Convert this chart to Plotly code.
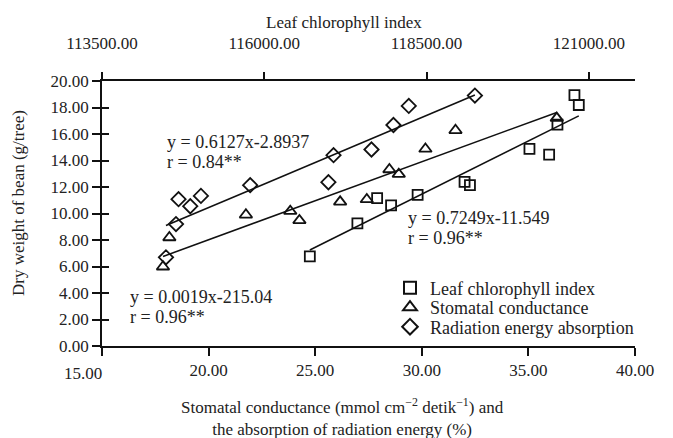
import numpy as np
import plotly.graph_objects as go

# ---------------- data ----------------
chl_x = [116702, 117435, 117739, 117954, 118363, 119086, 119169, 120086, 120389, 120517, 120779, 120846]
chl_y = [6.76, 9.25, 11.16, 10.61, 11.41, 12.39, 12.14, 14.87, 14.45, 16.71, 18.94, 18.19]

stom_x = [17.86, 18.16, 21.75, 23.83, 24.26, 26.17, 27.42, 28.48, 28.92, 30.17, 31.58, 36.33]
stom_y = [5.98, 8.19, 9.90, 10.18, 9.48, 10.88, 11.06, 13.32, 12.97, 14.87, 16.28, 17.20]

rad_x = [18.00, 18.47, 18.59, 19.14, 19.64, 21.95, 25.62, 25.86, 27.64, 28.67, 29.39, 32.49]
rad_y = [6.69, 9.20, 11.08, 10.55, 11.33, 12.14, 12.36, 14.40, 14.83, 16.68, 18.12, 18.90]

series_names = ["Leaf chlorophyll index", "Stomatal conductance", "Radiation energy absorption"]

bottom_ticks = [15, 20, 25, 30, 35, 40]
bottom_labels = ["15.00", "20.00", "25.00", "30.00", "35.00", "40.00"]
top_ticks = [113500, 116000, 118500, 121000]
top_labels = ["113500.00", "116000.00", "118500.00", "121000.00"]
y_ticks = [0, 2, 4, 6, 8, 10, 12, 14, 16, 18, 20]

eq_texts = [("y = 0.6127x-2.8937", "r = 0.84**"),
            ("y = 0.7249x-11.549", "r = 0.96**"),
            ("y = 0.0019x-215.04", "r = 0.96**")]

title_top = "Leaf chlorophyll index"
title_y = "Dry weight of bean (g/tree)"
title_x = "Stomatal conductance (mmol cm<sup>\u22122</sup> detik<sup>\u22121</sup>) and<br>the absorption of radiation energy (%)"

# ---------------- layout geometry ----------------
W, H = 673, 438
L, R, T, B = 102, 635, 81, 346
FONT = "Liberation Serif, Times New Roman, serif"
TXT = "#222222"
INK = "#111111"

def px2paper(px, py):
    return (px - L) / (R - L), (B - py) / (B - T)

def trend(xs, ys):
    xs = np.asarray(xs, float); ys = np.asarray(ys, float)
    k, b = np.polyfit(xs, ys, 1)
    xx = np.array([xs.min(), xs.max()])
    return xx, k * xx + b

fig = go.Figure()

# trendlines
for xs, ys, ax in [(chl_x, chl_y, "x2"), (stom_x, stom_y, "x"), (rad_x, rad_y, "x")]:
    lx, ly = trend(xs, ys)
    fig.add_trace(go.Scatter(x=lx, y=ly, mode="lines", xaxis=ax, yaxis="y",
                             line=dict(color=INK, width=1.6), showlegend=False, hoverinfo="skip"))

mk_line = dict(color=INK, width=1.8)
fig.add_trace(go.Scatter(x=chl_x, y=chl_y, mode="markers", name=series_names[0], xaxis="x2", yaxis="y",
                         legend="legend",
                         marker=dict(symbol="square-open", size=10, color=INK, line=mk_line)))
fig.add_trace(go.Scatter(x=stom_x, y=stom_y, mode="markers", name=series_names[1], xaxis="x", yaxis="y",
                         legend="legend2",
                         marker=dict(symbol="triangle-up-open", size=11, color=INK, line=mk_line)))
fig.add_trace(go.Scatter(x=rad_x, y=rad_y, mode="markers", name=series_names[2], xaxis="x", yaxis="y",
                         legend="legend3",
                         marker=dict(symbol="diamond-open", size=11, color=INK, line=mk_line)))
# dummy trace on yaxis2 so its (inside) ticks render
fig.add_trace(go.Scatter(x=[None], y=[None], xaxis="x", yaxis="y2", showlegend=False, hoverinfo="skip"))

axis_common = dict(showgrid=False, zeroline=False, showline=True, linecolor=INK, linewidth=1.5,
                   tickcolor=INK, tickwidth=1.5, tickfont=dict(family=FONT, size=17, color=TXT))

def legend_at(py):
    return dict(x=px2paper(390, 0)[0], y=px2paper(0, py)[1], xanchor="left", yanchor="middle",
                font=dict(family=FONT, size=18, color=TXT), bgcolor="rgba(0,0,0,0)",
                borderwidth=0, itemsizing="constant")

fig.update_layout(
    width=W, height=H,
    margin=dict(l=L, r=W - R, t=T, b=H - B, pad=0),
    paper_bgcolor="white", plot_bgcolor="white",
    font=dict(family=FONT, size=17, color=TXT),
    xaxis=dict(range=[15, 40], tickvals=bottom_ticks, ticktext=[" "] + bottom_labels[1:],
               ticks="outside", ticklen=8, **axis_common),
    xaxis2=dict(range=[113500, 121712], tickvals=top_ticks, ticktext=top_labels, overlaying="x", side="top",
                ticks="outside", ticklen=7, ticklabelstandoff=16, **axis_common),
    yaxis=dict(range=[0, 20], tickvals=y_ticks, tickformat=".2f", ticks="outside", ticklen=8, **axis_common),
    yaxis2=dict(range=[0, 20], tickvals=y_ticks, overlaying="y", side="left", ticks="inside", ticklen=7,
                showticklabels=False, showline=False, showgrid=False, zeroline=False,
                tickcolor=INK, tickwidth=1.5),
    showlegend=True,
    legend=legend_at(288),
    legend2=legend_at(307.5),
    legend3=legend_at(327),
)

ann = []
def add_text(text, px, py, xanchor="left", size=18, angle=0):
    xp, yp = px2paper(px, py)
    ann.append(dict(text=text, x=xp, y=yp, xref="paper", yref="paper", xanchor=xanchor, yanchor="middle",
                    showarrow=False, textangle=angle, font=dict(family=FONT, size=size, color=TXT)))

eq_pos = [(165, 141.7), (406, 218.3), (128, 297.3)]
for (l1, l2), (ex, ey) in zip(eq_texts, eq_pos):
    add_text(l1, ex, ey)
    add_text(l2, ex, ey + 20)

add_text(bottom_labels[0], 83, 373, xanchor="center", size=17)
add_text(title_top, 344, 22, xanchor="center", size=17)
add_text(title_y, 18, 203, xanchor="center", size=17, angle=-90)
ann.append(dict(text=title_x, x=px2paper(342, 0)[0], y=px2paper(0, 393)[1], xref="paper", yref="paper",
                xanchor="center", yanchor="top", showarrow=False, align="center",
                font=dict(family=FONT, size=17, color=TXT)))
fig.update_layout(annotations=ann)

fig.write_html("out.html", config={"displayModeBar": False},
               post_script="document.body.style.margin='0';document.body.style.overflow='hidden';")
